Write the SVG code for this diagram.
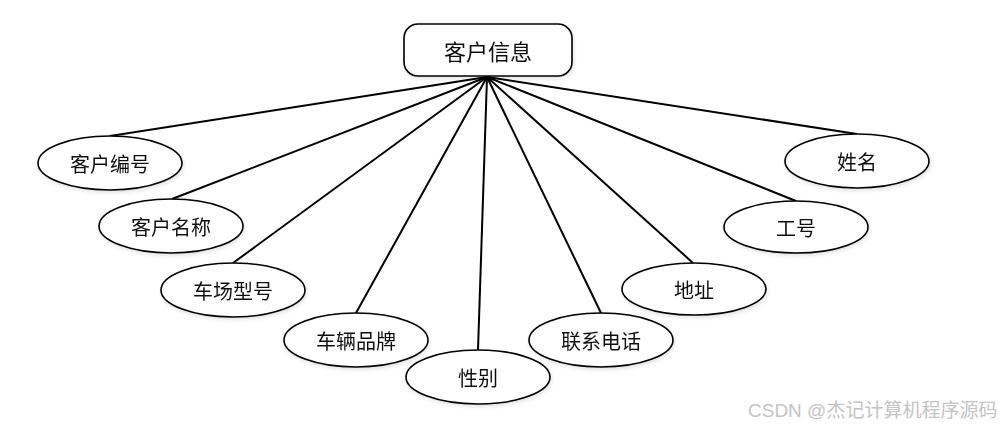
<svg xmlns="http://www.w3.org/2000/svg" width="1001" height="429" viewBox="0 0 1001 429">
<style>
.n{fill:#fff;stroke:#000;stroke-width:1.6}
.t{font-family:"Noto Sans CJK SC","Noto Sans",sans-serif;font-size:20px;fill:#111;text-anchor:middle;dominant-baseline:central}
.e{stroke:#000;stroke-width:2;fill:none}
.w{font-family:"Liberation Sans","Noto Sans CJK SC",sans-serif;font-size:19px;fill:#c4c4c4}
</style>
<defs>
<filter id="s" x="-20%" y="-20%" width="140%" height="140%">
<feGaussianBlur in="SourceAlpha" stdDeviation="2"/>
<feOffset dx="1" dy="2"/>
<feComponentTransfer><feFuncA type="linear" slope="0.12"/></feComponentTransfer>
<feMerge><feMergeNode/><feMergeNode in="SourceGraphic"/></feMerge>
</filter>
</defs>
<rect width="1001" height="429" fill="#fff"/>
<g id="connectors">
<line class="e" x1="487" y1="77" x2="110" y2="136"/>
<line class="e" x1="487" y1="77" x2="172" y2="199"/>
<line class="e" x1="487" y1="77" x2="233" y2="263"/>
<line class="e" x1="487" y1="77" x2="356" y2="313"/>
<line class="e" x1="487" y1="77" x2="478" y2="350"/>
<line class="e" x1="487" y1="77" x2="601" y2="313"/>
<line class="e" x1="487" y1="77" x2="693" y2="263"/>
<line class="e" x1="487" y1="77" x2="796" y2="201"/>
<line class="e" x1="487" y1="77" x2="857" y2="134"/>
</g>
<g id="root" filter="url(#s)">
<rect class="n" x="404" y="24" width="168" height="52" rx="14"/>
<text class="t" x="488" y="50" style="font-size:22px">客户信息</text>
</g>
<g id="a1" filter="url(#s)"><ellipse class="n" cx="110" cy="163" rx="72" ry="27"/><text class="t" x="110" y="163">客户编号</text></g>
<g id="a2" filter="url(#s)"><ellipse class="n" cx="171" cy="226" rx="72" ry="27"/><text class="t" x="171" y="226">客户名称</text></g>
<g id="a3" filter="url(#s)"><ellipse class="n" cx="233" cy="290" rx="72" ry="27"/><text class="t" x="233" y="290">车场型号</text></g>
<g id="a4" filter="url(#s)"><ellipse class="n" cx="356" cy="340" rx="72" ry="27"/><text class="t" x="356" y="340">车辆品牌</text></g>
<g id="a5" filter="url(#s)"><ellipse class="n" cx="478" cy="377" rx="72" ry="27"/><text class="t" x="478" y="377">性别</text></g>
<g id="a6" filter="url(#s)"><ellipse class="n" cx="601" cy="340" rx="72" ry="27"/><text class="t" x="601" y="340">联系电话</text></g>
<g id="a7" filter="url(#s)"><ellipse class="n" cx="694" cy="289" rx="72" ry="26"/><text class="t" x="694" y="289">地址</text></g>
<g id="a8" filter="url(#s)"><ellipse class="n" cx="796" cy="227" rx="72" ry="26"/><text class="t" x="796" y="227">工号</text></g>
<g id="a9" filter="url(#s)"><ellipse class="n" cx="857" cy="161" rx="72" ry="27"/><text class="t" x="857" y="161">姓名</text></g>
<text class="w" x="748" y="417">CSDN @杰记计算机程序源码</text>
</svg>
